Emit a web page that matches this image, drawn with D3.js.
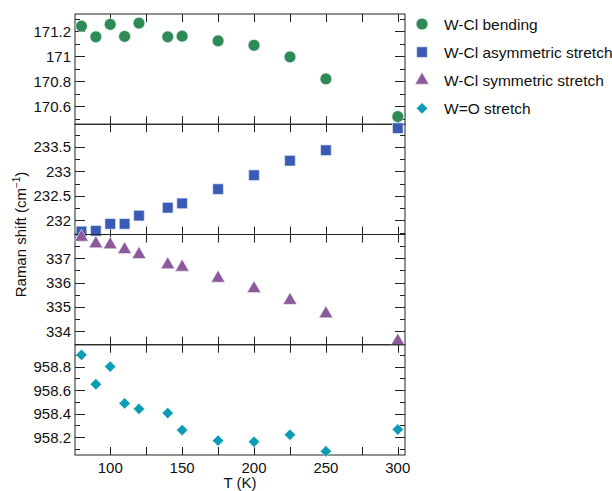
<!DOCTYPE html>
<html>
<head>
<meta charset="utf-8">
<script src="https://cdn.jsdelivr.net/npm/d3@7"></script>
<style>
  html, body { margin: 0; padding: 0; background: #fff; }
  svg { display: block; font-family: "Liberation Sans", Arial, Helvetica, sans-serif; }
</style>
</head>
<body>
<svg id="chart" width="612" height="491"></svg>
<script>
// Temperatures (K)
const temps = [80, 90, 100, 110, 120, 140, 150, 175, 200, 225, 250, 300];

// Raman peak positions (cm^-1) for each mode
const bending   = [171.243, 171.157, 171.257, 171.160, 171.267, 171.157, 171.162, 171.125, 171.089, 170.995, 170.819, 170.517];
const asymStr   = [231.771, 231.785, 231.927, 231.927, 232.095, 232.257, 232.345, 232.636, 232.920, 233.216, 233.430, 233.880];
const symStr    = [337.86, 337.59, 337.55, 337.35, 337.15, 336.73, 336.63, 336.18, 335.75, 335.27, 334.72, 333.60];
const woStr     = [958.90, 958.65, 958.80, 958.487, 958.44, 958.405, 958.26, 958.17, 958.16, 958.22, 958.08, 958.265];

// Series names
const seriesNames = ["W-Cl bending", "W-Cl asymmetric stretch", "W-Cl symmetric stretch", "W=O stretch"];

// Axis ticks
const xMajor = [100, 150, 200, 250, 300];
const xMinor = [125, 175, 225, 275];
const yMajor = [
  [170.6, 170.8, 171, 171.2],
  [232, 232.5, 233, 233.5],
  [334, 335, 336, 337],
  [958.2, 958.4, 958.6, 958.8]
];
const yMajorLabels = [
  ["170.6", "170.8", "171", "171.2"],
  ["232", "232.5", "233", "233.5"],
  ["334", "335", "336", "337"],
  ["958.2", "958.4", "958.6", "958.8"]
];
const yMinorStep = [0.1, 0.25, 0.5, 0.1];
const yDomains = [
  [170.455, 171.34],
  [231.71, 233.96],
  [333.45, 337.97],
  [958.048, 958.986]
];

const colors = ["#2e8b57", "#3a5bb5", "#8c5a9c", "#0a9cb4"];
// marker shape, area and rotation per series (diamond = square turned 45°)
const shapes = [d3.symbolCircle, d3.symbolSquare, d3.symbolTriangle, d3.symbolSquare];
const sizes  = [108, 112, 82, 64];
const rotations = [0, 0, 0, 45];
const values = [bending, asymStr, symStr, woStr];

const svg = d3.select("#chart");
const plotL = 75, plotR = 405, plotT = 14, plotB = 455;
const nPanels = 4;
const panelH = (plotB - plotT) / nPanels;

const x = d3.scaleLinear().domain([75.5, 305]).range([plotL, plotR]);

const majorLen = 10, minorLen = 5, xTickLen = 8;
const axisColor = "#222";

for (let p = 0; p < nPanels; p++) {
  const y0 = plotT + p * panelH, y1 = y0 + panelH;
  const y = d3.scaleLinear().domain(yDomains[p]).range([y1, y0]);
  const g = svg.append("g");

  // Frame
  g.append("rect")
    .attr("x", plotL).attr("y", y0)
    .attr("width", plotR - plotL).attr("height", panelH)
    .attr("fill", "none").attr("stroke", axisColor).attr("stroke-width", 1);

  // X ticks, inward, top and bottom edges
  const xt = xMajor.concat(xMinor);
  xt.forEach(t => {
    const xx = Math.round(x(t)) + 0.5;
    g.append("line").attr("x1", xx).attr("x2", xx).attr("y1", y0).attr("y2", y0 + xTickLen)
      .attr("stroke", axisColor);
    g.append("line").attr("x1", xx).attr("x2", xx).attr("y1", y1).attr("y2", y1 - xTickLen)
      .attr("stroke", axisColor);
  });

  // Y minor ticks
  const [d0, d1] = yDomains[p];
  const step = yMinorStep[p];
  const minorVals = d3.range(Math.ceil(d0 / step) * step, d1, step)
    .map(v => +v.toFixed(4))
    .filter(v => !yMajor[p].some(m => Math.abs(m - v) < 1e-6));
  minorVals.forEach(v => {
    const yy = Math.round(y(v)) + 0.5;
    g.append("line").attr("x1", plotL).attr("x2", plotL + minorLen).attr("y1", yy).attr("y2", yy).attr("stroke", axisColor);
    g.append("line").attr("x1", plotR).attr("x2", plotR - minorLen).attr("y1", yy).attr("y2", yy).attr("stroke", axisColor);
  });

  // Y major ticks and labels
  yMajor[p].forEach((v, i) => {
    const yy = Math.round(y(v)) + 0.5;
    g.append("line").attr("x1", plotL).attr("x2", plotL + majorLen).attr("y1", yy).attr("y2", yy).attr("stroke", axisColor);
    g.append("line").attr("x1", plotR).attr("x2", plotR - majorLen).attr("y1", yy).attr("y2", yy).attr("stroke", axisColor);
    g.append("text").attr("x", plotL - 4).attr("y", y(v) + 5.5)
      .attr("text-anchor", "end").attr("font-size", 15).attr("fill", "#111")
      .text(yMajorLabels[p][i]);
  });

  // X labels only on the bottom panel
  if (p === nPanels - 1) {
    xMajor.forEach(t => {
      g.append("text").attr("x", x(t)).attr("y", y1 + 18)
        .attr("text-anchor", "middle").attr("font-size", 15).attr("fill", "#111")
        .text(String(t));
    });
  }

  // Markers
  const sym = d3.symbol().type(shapes[p]).size(sizes[p]);
  g.selectAll("path.pt").data(temps.map((t, i) => [t, values[p][i]]))
    .join("path").attr("class", "pt")
    .attr("transform", d => `translate(${x(d[0])},${y(d[1])}) rotate(${rotations[p]})`)
    .attr("d", sym)
    .attr("fill", colors[p])
    .attr("stroke", "#e8eef0").attr("stroke-width", 0.6);
}

// Axis titles
svg.append("text")
  .attr("x", (plotL + plotR) / 2).attr("y", 488)
  .attr("text-anchor", "middle").attr("font-size", 15).attr("fill", "#111")
  .text("T (K)");

const yt = svg.append("text")
  .attr("transform", `translate(26,${(plotT + plotB) / 2}) rotate(-90)`)
  .attr("text-anchor", "middle").attr("font-size", 15).attr("fill", "#111");
yt.append("tspan").text("Raman shift (cm");
yt.append("tspan").attr("font-size", 10).attr("dy", -6).text("\u22121");
yt.append("tspan").attr("dy", 6).text(")");

// Legend
const legend = svg.append("g");
seriesNames.forEach((name, i) => {
  const cy = 24 + i * 28.1;
  legend.append("path")
    .attr("transform", `translate(422,${cy}) rotate(${rotations[i]})`)
    .attr("d", d3.symbol().type(shapes[i]).size(sizes[i])())
    .attr("fill", colors[i]).attr("stroke", "#e8eef0").attr("stroke-width", 0.6);
  legend.append("text").attr("x", 444).attr("y", cy + 5.5)
    .attr("font-size", 15.5).attr("fill", "#111").text(name);
});
</script>
</body>
</html>
